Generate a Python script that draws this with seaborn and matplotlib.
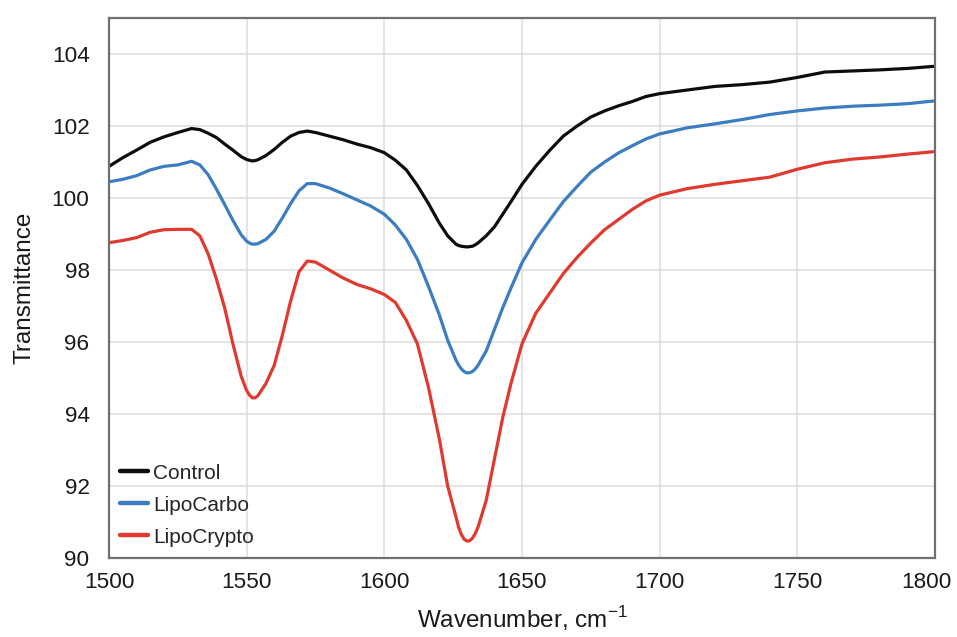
import numpy as np
import pandas as pd
import matplotlib
matplotlib.use("Agg")
import matplotlib.pyplot as plt
import matplotlib.transforms as mtransforms
import seaborn as sns

# FTIR spectra, amide I / II region
wavenumber = [1500, 1505, 1510, 1515, 1520, 1525, 1530, 1533, 1536, 1539, 1542, 1545,
              1548, 1550, 1551, 1552, 1553, 1554, 1557, 1560, 1563, 1566, 1569, 1572,
              1575, 1580, 1585, 1590, 1595, 1600, 1604, 1608, 1612, 1616, 1620, 1623,
              1626, 1627, 1628, 1629, 1630, 1631, 1632, 1633, 1634, 1637, 1640, 1643,
              1646, 1650, 1655, 1660, 1665, 1670, 1675, 1680, 1685, 1690, 1695, 1700,
              1710, 1720, 1730, 1740, 1750, 1760, 1770, 1780, 1790, 1800]

control = [100.88, 101.12, 101.33, 101.55, 101.70, 101.82, 101.93, 101.90, 101.80, 101.68,
           101.50, 101.33, 101.15, 101.07, 101.05, 101.03, 101.04, 101.06, 101.18, 101.35,
           101.55, 101.72, 101.82, 101.86, 101.82, 101.72, 101.62, 101.50, 101.40, 101.26,
           101.05, 100.78, 100.35, 99.85, 99.30, 98.95, 98.72, 98.68, 98.66, 98.65, 98.64,
           98.65, 98.66, 98.70, 98.75, 98.95, 99.20, 99.55, 99.90, 100.38, 100.88, 101.32,
           101.72, 102.00, 102.25, 102.42, 102.56, 102.68, 102.82, 102.90, 103.00, 103.10,
           103.15, 103.22, 103.35, 103.50, 103.53, 103.56, 103.60, 103.66]

lipocarbo = [100.45, 100.52, 100.62, 100.78, 100.88, 100.92, 101.02, 100.92, 100.65, 100.25,
             99.82, 99.38, 98.98, 98.80, 98.75, 98.72, 98.72, 98.73, 98.85, 99.08, 99.45,
             99.85, 100.20, 100.40, 100.40, 100.28, 100.12, 99.95, 99.78, 99.55, 99.25,
             98.85, 98.30, 97.55, 96.75, 96.05, 95.50, 95.36, 95.25, 95.18, 95.14, 95.15,
             95.18, 95.25, 95.35, 95.75, 96.35, 96.95, 97.50, 98.20, 98.85, 99.38, 99.90,
             100.32, 100.72, 101.00, 101.25, 101.45, 101.64, 101.78, 101.95, 102.06, 102.18,
             102.32, 102.42, 102.50, 102.55, 102.58, 102.62, 102.70]

lipocrypto = [98.76, 98.82, 98.90, 99.05, 99.12, 99.13, 99.13, 98.95, 98.45, 97.75, 96.95,
              95.95, 95.05, 94.65, 94.53, 94.45, 94.45, 94.50, 94.85, 95.35, 96.20, 97.15,
              97.95, 98.25, 98.22, 98.00, 97.78, 97.60, 97.48, 97.32, 97.10, 96.60, 95.95,
              94.75, 93.30, 92.00, 91.15, 90.85, 90.65, 90.52, 90.47, 90.48, 90.55, 90.68,
              90.85, 91.60, 92.75, 93.90, 94.85, 95.95, 96.80, 97.35, 97.90, 98.35, 98.75,
              99.12, 99.40, 99.68, 99.92, 100.08, 100.26, 100.38, 100.48, 100.58, 100.80,
              100.98, 101.08, 101.14, 101.22, 101.29]

series_names = ["Control", "LipoCarbo", "LipoCrypto"]
series_colors = ["#0d0d0d", "#3b7dc0", "#e03a2f"]

x_ticks = [1500, 1550, 1600, 1650, 1700, 1750, 1800]
y_ticks = [90, 92, 94, 96, 98, 100, 102, 104]

df = pd.DataFrame({
    "Wavenumber": wavenumber * 3,
    "Transmittance": control + lipocarbo + lipocrypto,
    "Sample": [n for n in series_names for _ in wavenumber],
})

sns.set_theme(style="whitegrid")
plt.rcParams["font.family"] = ["Liberation Sans", "DejaVu Sans"]
plt.rcParams["mathtext.fontset"] = "custom"
plt.rcParams["mathtext.rm"] = "Liberation Sans"

fig = plt.figure(figsize=(9.57, 6.37), dpi=100)
ax = fig.add_axes([0.1139, 0.124, 0.8631, 0.8477])

sns.lineplot(data=df, x="Wavenumber", y="Transmittance", hue="Sample",
             hue_order=series_names, palette=series_colors, linewidth=2.3,
             ax=ax, legend=True)

ax.set_xlim(1500, 1800)
ax.set_ylim(90, 105)
ax.set_xticks(x_ticks)
ax.set_yticks(y_ticks)
ax.tick_params(axis="both", length=0, labelsize=16.2, colors="#1a1a1a")
ax.tick_params(axis="y", pad=14)
ax.tick_params(axis="x", pad=10)

# keep the last x tick label inside the figure
last_label = ax.get_xticklabels()[-1]
last_label.set_transform(last_label.get_transform() +
                         mtransforms.ScaledTranslation(-0.09, 0, fig.dpi_scale_trans))

ax.grid(True, color="#dcdcdc", linewidth=1.1)
for side in ["left", "right", "top", "bottom"]:
    ax.spines[side].set_color("#707070")
    ax.spines[side].set_linewidth(1.6)
    ax.spines[side].set_visible(True)

ax.set_xlabel(r"Wavenumber, cm$^{\mathregular{-1}}$", fontsize=17.5, color="#1a1a1a", labelpad=8)
ax.set_ylabel("Transmittance", fontsize=17.5, color="#1a1a1a", labelpad=12)

leg = ax.legend(loc="lower left", frameon=False, fontsize=15,
                handlelength=1.3, handletextpad=0.25, labelspacing=0.62,
                borderaxespad=0.25, borderpad=0.3)
for line in leg.get_lines():
    line.set_linewidth(3.2)

fig.savefig("out.png", dpi=100)
